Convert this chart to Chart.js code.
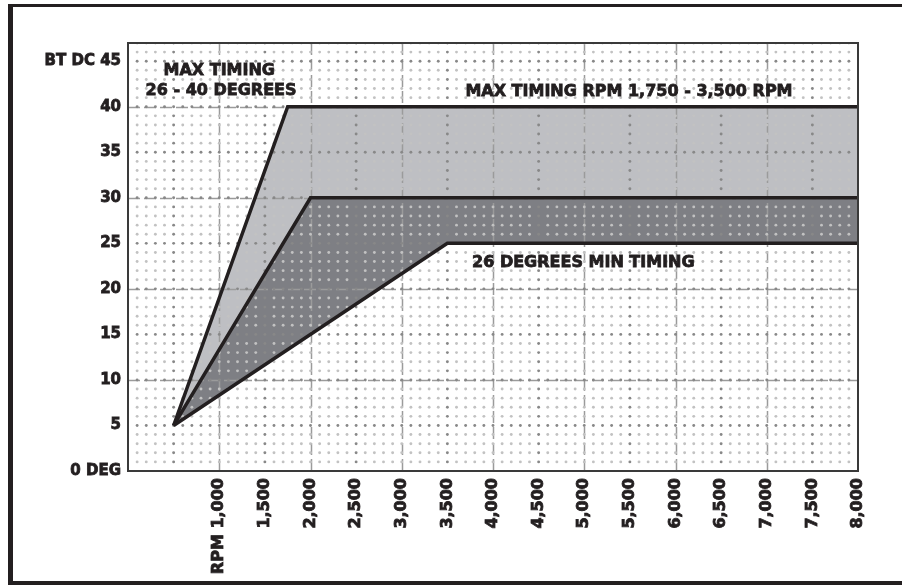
<!DOCTYPE html>
<html>
<head>
<meta charset="utf-8">
<script src="https://cdn.jsdelivr.net/npm/chart.js@4.4.1/dist/chart.umd.min.js"></script>
<style>
  body { margin: 0; background: #fff; }
  #marco { position: absolute; left: 0; top: 0; width: 902px; height: 585px; }
  .borde { position: absolute; background: #231f20; }
</style>
</head>
<body>
<div id="marco">
  <canvas id="grafico" width="902" height="585"></canvas>
  <div class="borde" style="left:11px; top:4px; width:891px; height:3px;"></div>
  <div class="borde" style="left:8px; top:4px; width:5px; height:581px;"></div>
  <div class="borde" style="left:8px; top:581px; width:894px; height:4px;"></div>
</div>
<script>
// curvas de avance (rpm, grados)
const rpmMax = [500, 1750, 8000]
const degMax = [5, 40, 40]
const rpmMid = [500, 2000, 8000]
const degMid = [5, 30, 30]
const rpmMin = [500, 3500, 8000]
const degMin = [5, 25, 25]

// ejes
const xTicks = [1000, 1500, 2000, 2500, 3000, 3500, 4000, 4500, 5000, 5500, 6000, 6500, 7000, 7500, 8000]
const xTickLabels = ['RPM 1,000', '1,500', '2,000', '2,500', '3,000', '3,500', '4,000', '4,500', '5,000', '5,500', '6,000', '6,500', '7,000', '7,500', '8,000']
const yTicks = [0, 5, 10, 15, 20, 25, 30, 35, 40, 45]
const yTickLabels = ['0 DEG', '5', '10', '15', '20', '25', '30', '35', '40', 'BT DC 45']

// textos del grafico
const notas = ['MAX TIMING', '26 - 40 DEGREES', 'MAX TIMING RPM 1,750 - 3,500 RPM', '26 DEGREES MIN TIMING']

const puntos = (xs, ys) => xs.map((x, i) => ({ x: x, y: ys[i] }))

const negro = '#231f20'
const fuente = 'DejaVu Sans'

// posiciones de las notas (en unidades del grafico)
const notaPos = [[1000, 43.9], [1020, 41.7], [5490, 41.6], [4990, 22.9]]

const fondoPuntos = {
  id: 'fondoPuntos',
  beforeDatasetsDraw(chart) {
    const { ctx, chartArea, scales } = chart
    const x = scales.x
    const y = scales.y
    ctx.save()
    ctx.beginPath()
    ctx.rect(chartArea.left, chartArea.top, chartArea.right - chartArea.left, chartArea.bottom - chartArea.top)
    ctx.clip()

    // lineas punteadas de la grilla
    ctx.strokeStyle = '#9b9b9b'
    ctx.lineWidth = 1.5
    ctx.setLineDash([12, 4])
    x.ticks.forEach(t => {
      if (t.value % 1000 === 0 && t.value < x.max) {
        const px = Math.round(x.getPixelForValue(t.value)) + 0.5
        ctx.beginPath()
        ctx.moveTo(px, chartArea.top)
        ctx.lineTo(px, chartArea.bottom)
        ctx.stroke()
      }
    })
    y.ticks.forEach(t => {
      if (t.value % 10 === 0 && t.value > 0) {
        const py = Math.round(y.getPixelForValue(t.value)) + 0.5
        ctx.beginPath()
        ctx.moveTo(chartArea.left, py)
        ctx.lineTo(chartArea.right, py)
        ctx.stroke()
      }
    })
    ctx.setLineDash([])

    // trama de puntos
    for (let g = 1; g <= Math.floor(y.max); g++) {
      for (let r = 100; r < x.max; r += 100) {
        const fuerte = (g % 5 === 0) || (r % 500 === 0 && r % 1000 !== 0)
        ctx.fillStyle = fuerte ? '#888888' : '#c2c2c2'
        ctx.beginPath()
        ctx.arc(x.getPixelForValue(r), y.getPixelForValue(g), 1.45, 0, Math.PI * 2)
        ctx.fill()
      }
    }
    ctx.restore()
  },
  afterDatasetsDraw(chart) {
    const { ctx, chartArea } = chart
    ctx.save()
    ctx.strokeStyle = '#3a3a3a'
    ctx.lineWidth = 2
    ctx.strokeRect(chartArea.left, chartArea.top, chartArea.right - chartArea.left, chartArea.bottom - chartArea.top)
    ctx.restore()
  },
  afterDraw(chart) {
    const { ctx, scales } = chart
    ctx.save()
    ctx.fillStyle = negro
    ctx.strokeStyle = negro
    ctx.lineWidth = 0.8
    ctx.font = 'bold 16px "' + fuente + '"'
    ctx.textAlign = 'center'
    ctx.textBaseline = 'middle'
    for (let i = 0; i < notas.length; i++) {
      const px = scales.x.getPixelForValue(notaPos[i][0])
      const py = scales.y.getPixelForValue(notaPos[i][1])
      ctx.fillText(notas[i], px, py)
      ctx.strokeText(notas[i], px, py)
    }
    ctx.restore()
  }
}

const data = {
  datasets: [
    {
      label: 'Min',
      data: puntos(rpmMin, degMin),
      borderColor: negro,
      borderWidth: 3.5,
      fill: false
    },
    {
      label: 'Medio',
      data: puntos(rpmMid, degMid),
      borderColor: negro,
      borderWidth: 3.5,
      backgroundColor: '#7e7f84',
      fill: '-1'
    },
    {
      label: 'Max',
      data: puntos(rpmMax, degMax),
      borderColor: negro,
      borderWidth: 3.5,
      backgroundColor: '#bebfc3',
      fill: '-1'
    }
  ]
}

const config = {
  type: 'line',
  data: data,
  options: {
    responsive: false,
    animation: false,
    layout: {
      padding: { left: 0, top: 43, right: 44, bottom: 0 }
    },
    elements: {
      point: { radius: 0 },
      line: { tension: 0, borderJoinStyle: 'miter' }
    },
    plugins: {
      legend: { display: false },
      tooltip: { enabled: false },
      filler: { drawTime: 'beforeDatasetsDraw' }
    },
    scales: {
      x: {
        type: 'linear',
        min: 0,
        max: 8000,
        afterFit: (scale) => { scale.height = 114 },
        afterBuildTicks: (scale) => { scale.ticks = xTicks.map(v => ({ value: v })) },
        grid: { display: false, drawTicks: false },
        border: { display: false },
        ticks: {
          autoSkip: false,
          maxRotation: 90,
          minRotation: 90,
          padding: 7,
          color: negro,
          textStrokeColor: negro,
          textStrokeWidth: 0.8,
          font: { family: fuente, size: 16, weight: 'bold' },
          callback: (v) => xTickLabels[xTicks.indexOf(v)]
        }
      },
      y: {
        type: 'linear',
        min: 0,
        max: 47,
        afterFit: (scale) => { scale.width = 128 },
        afterBuildTicks: (scale) => { scale.ticks = yTicks.map(v => ({ value: v })) },
        grid: { display: false, drawTicks: false },
        border: { display: false },
        ticks: {
          padding: 7,
          color: negro,
          textStrokeColor: negro,
          textStrokeWidth: 0.8,
          font: { family: fuente, size: 15, weight: 'bold' },
          callback: (v) => yTickLabels[yTicks.indexOf(v)]
        }
      }
    }
  },
  plugins: [fondoPuntos]
}

const myChart = new Chart(document.getElementById('grafico'), config)
</script>
</body>
</html>
